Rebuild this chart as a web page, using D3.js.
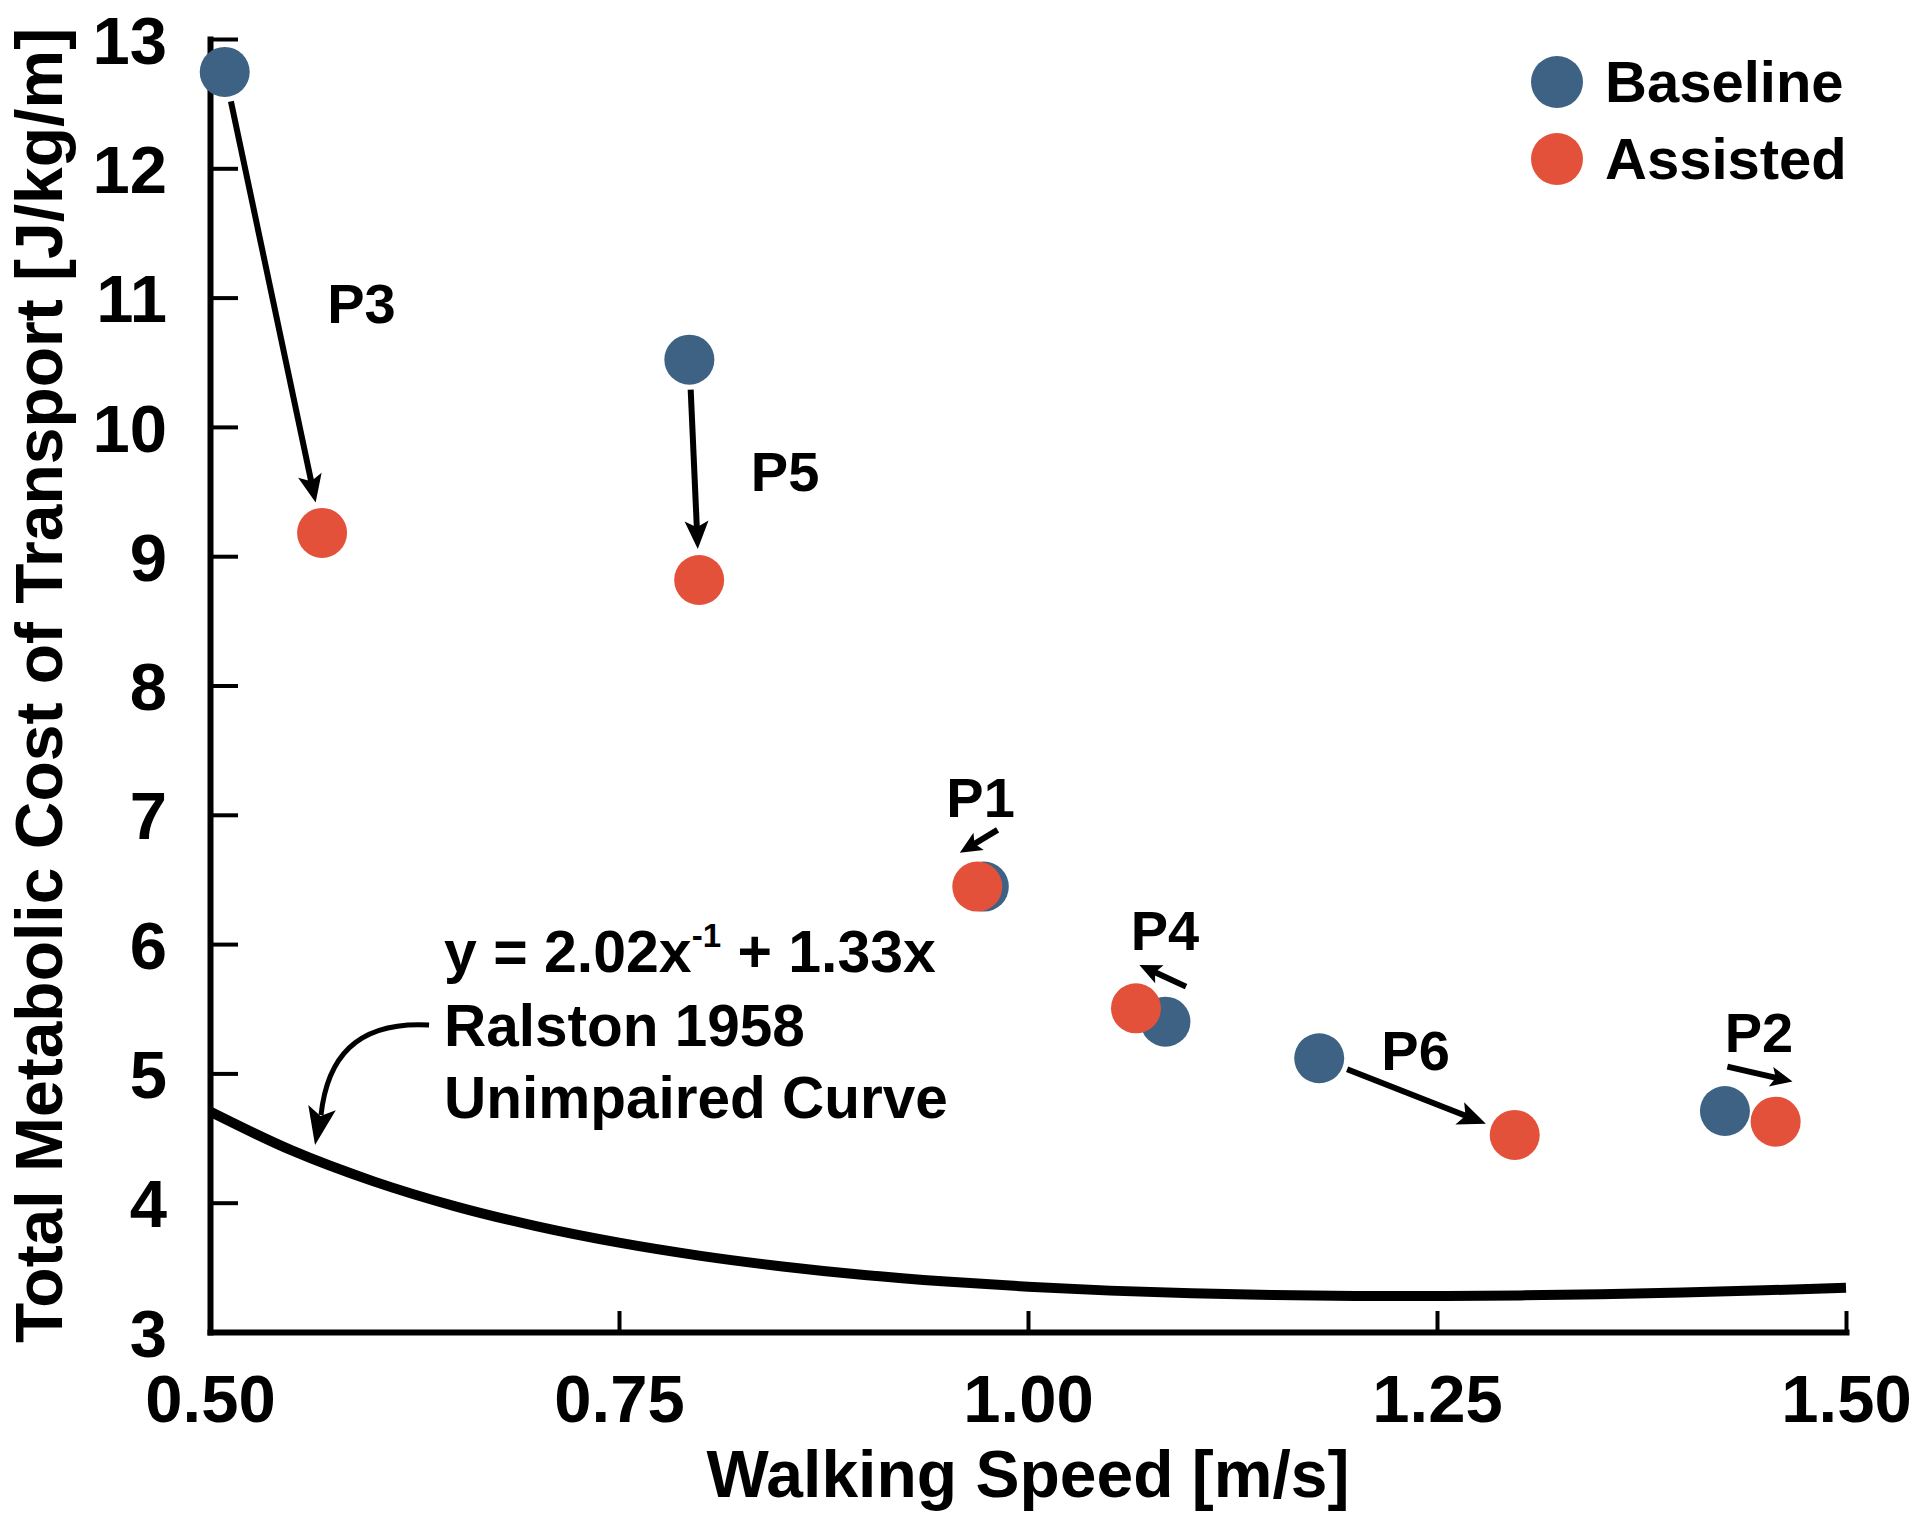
<!DOCTYPE html>
<html>
<head>
<meta charset="utf-8">
<script src="https://cdn.jsdelivr.net/npm/d3@7"></script>
<style>
  html, body { margin: 0; padding: 0; background: #ffffff; }
  svg { display: block; }
  text { font-family: "Liberation Sans", Arial, Helvetica, sans-serif; font-weight: bold; fill: #000; }
</style>
</head>
<body>
<svg id="chart" width="1920" height="1525"></svg>
<script>
// ---------------- data ----------------
const participants   = ["P3", "P5", "P1", "P4", "P6", "P2"];
const baselineSpeed  = [0.509, 0.793, 0.973, 1.084, 1.178, 1.426];
const baselineCost   = [12.745, 10.52, 6.445, 5.40, 5.117, 4.709];
const assistedSpeed  = [0.5685, 0.799, 0.969, 1.066, 1.2975, 1.457];
const assistedCost   = [9.18, 8.816, 6.445, 5.503, 4.524, 4.627];

// which participants get a connecting arrow between their two points
const connectArrow   = [true, true, false, false, true, false];

// label anchors (data units): center x, baseline y
const labelSpeed     = [0.5926, 0.8515, 0.971, 1.0837, 1.2369, 1.4468];
const labelCost      = [10.80, 9.507, 6.98, 5.952, 5.025, 5.164];

// short direction arrows (data units) for overlapping pairs
const shortArrowNames = ["P1", "P4", "P2"];
const shortArrowX1    = [0.9814, 1.0966, 1.4275];
const shortArrowY1    = [6.883, 5.671, 5.052];
const shortArrowX2    = [0.9583, 1.0681, 1.4673];
const shortArrowY2    = [6.707, 5.838, 4.937];

// Ralston 1958 unimpaired curve
const curveSpeed = [0.50, 0.55, 0.60, 0.65, 0.70, 0.75, 0.80, 0.85, 0.90, 0.95, 1.00,
                    1.05, 1.10, 1.15, 1.20, 1.25, 1.30, 1.35, 1.40, 1.45, 1.50];
const curveCost  = [4.705, 4.404, 4.165, 3.972, 3.817, 3.691, 3.589, 3.507, 3.441, 3.390, 3.350,
                    3.320, 3.299, 3.286, 3.279, 3.278, 3.283, 3.292, 3.305, 3.322, 3.342];

const equationLines = ["Ralston 1958", "Unimpaired Curve"];
const eqAnchor = [0.643, 5.784];          // data units: x, baseline y of first line
const curvedArrowStart = [0.6339, 5.374]; // data units
const curvedArrowTip   = [0.5642, 4.446];

const xTicks = [0.50, 0.75, 1.00, 1.25, 1.50];
const yTicks = [3, 4, 5, 6, 7, 8, 9, 10, 11, 12, 13];
const seriesNames = ["Baseline", "Assisted"];

// ---------------- styles ----------------
const BLUE = "#3d6283";
const RED  = "#e4513a";
const R = 25;

const svg = d3.select("#chart");

const x = d3.scaleLinear().domain([0.5, 1.5]).range([210, 1846]);
const y = d3.scaleLinear().domain([3, 13]).range([1332, 39]);

// ---------------- axes ----------------
const xAxis = d3.axisBottom(x).tickValues(xTicks).tickFormat(d3.format(".2f"))
  .tickSizeInner(-21).tickSizeOuter(0).tickPadding(42);
const yAxis = d3.axisLeft(y).tickValues(yTicks).tickFormat(d3.format("d"))
  .tickSizeInner(-28).tickSizeOuter(0).tickPadding(43);

const gx = svg.append("g").attr("transform", `translate(0,${y(3)})`).call(xAxis);
const gy = svg.append("g").attr("transform", `translate(${x(0.5)},0)`).call(yAxis);

[gx, gy].forEach(g => {
  g.select(".domain").attr("stroke", "#000").attr("stroke-width", 6).attr("stroke-linecap", "square");
  g.selectAll(".tick line").attr("stroke", "#000").attr("stroke-width", 4);
  g.selectAll(".tick text").attr("font-size", 67).attr("font-family", "Liberation Sans, Arial, sans-serif")
    .attr("font-weight", "bold").attr("fill", "#000");
});
gy.selectAll(".tick text").attr("dy", "0.36em");

// axis titles
svg.append("text")
  .attr("x", (x(0.5) + x(1.5)) / 2).attr("y", 1497)
  .attr("text-anchor", "middle").attr("font-size", 66)
  .text("Walking Speed [m/s]");

svg.append("text")
  .attr("transform", `translate(62,${(y(3) + y(13)) / 2}) rotate(-90)`)
  .attr("text-anchor", "middle").attr("font-size", 66)
  .text("Total Metabolic Cost of Transport [J/kg/m]");

// ---------------- Ralston curve ----------------
const curveData = curveSpeed.map((s, i) => [s, curveCost[i]]);
svg.append("path")
  .datum(curveData)
  .attr("fill", "none").attr("stroke", "#000").attr("stroke-width", 10)
  .attr("d", d3.line().x(d => x(d[0])).y(d => y(d[1])).curve(d3.curveMonotoneX));

// ---------------- arrow helpers ----------------
function arrowHead(g, tx, ty, ang, len, half) {
  const p = d3.path();
  p.moveTo(0, 0);
  p.lineTo(-len, -half);
  p.lineTo(-len * 0.78, 0);
  p.lineTo(-len, half);
  p.closePath();
  g.append("path").attr("d", p.toString()).attr("fill", "#000")
    .attr("transform", `translate(${tx},${ty}) rotate(${ang * 180 / Math.PI})`);
}
function straightArrow(g, x1, y1, x2, y2, width, len, half) {
  const ang = Math.atan2(y2 - y1, x2 - x1);
  const ex = x2 - Math.cos(ang) * len * 0.7, ey = y2 - Math.sin(ang) * len * 0.7;
  g.append("line").attr("x1", x1).attr("y1", y1).attr("x2", ex).attr("y2", ey)
    .attr("stroke", "#000").attr("stroke-width", width);
  arrowHead(g, x2, y2, ang, len, half);
}

const arrows = svg.append("g");

// connecting arrows
participants.forEach((p, i) => {
  if (!connectArrow[i]) return;
  const bx = x(baselineSpeed[i]), by = y(baselineCost[i]);
  const ax = x(assistedSpeed[i]), ay = y(assistedCost[i]);
  const ang = Math.atan2(ay - by, ax - bx);
  const sx = bx + Math.cos(ang) * 30, sy = by + Math.sin(ang) * 30;
  const tx = ax - Math.cos(ang) * 31, ty = ay - Math.sin(ang) * 31;
  straightArrow(arrows, sx, sy, tx, ty, 6, 28, 12);
});

// short direction arrows
shortArrowNames.forEach((n, i) => {
  straightArrow(arrows, x(shortArrowX1[i]), y(shortArrowY1[i]), x(shortArrowX2[i]), y(shortArrowY2[i]), 6, 22, 10);
});

// curved annotation arrow
{
  const sx = x(curvedArrowStart[0]), sy = y(curvedArrowStart[1]);
  const tx = x(curvedArrowTip[0]), ty = y(curvedArrowTip[1]);
  const ex = tx + 6, ey = ty - 30;
  const p = d3.path();
  p.moveTo(sx, sy);
  p.bezierCurveTo(sx - 75, sy - 4, ex + 6, ey - 55, ex, ey);
  arrows.append("path").attr("d", p.toString()).attr("fill", "none")
    .attr("stroke", "#000").attr("stroke-width", 5);
  arrowHead(arrows, tx, ty, Math.atan2(ty - (ey - 10), tx - (ex + 1.5)), 38, 14);
}

// ---------------- points ----------------
const pts = svg.append("g");
pts.selectAll("circle.base").data(participants).join("circle")
  .attr("class", "base")
  .attr("cx", (d, i) => x(baselineSpeed[i])).attr("cy", (d, i) => y(baselineCost[i]))
  .attr("r", R).attr("fill", BLUE);
pts.selectAll("circle.assist").data(participants).join("circle")
  .attr("class", "assist")
  .attr("cx", (d, i) => x(assistedSpeed[i])).attr("cy", (d, i) => y(assistedCost[i]))
  .attr("r", R).attr("fill", RED);

// participant labels
svg.append("g").selectAll("text").data(participants).join("text")
  .attr("x", (d, i) => x(labelSpeed[i])).attr("y", (d, i) => y(labelCost[i]))
  .attr("text-anchor", "middle").attr("font-size", 56)
  .text(d => d);

// ---------------- equation annotation ----------------
{
  const ex0 = x(eqAnchor[0]), ey0 = y(eqAnchor[1]);
  const t = svg.append("text").attr("x", ex0).attr("y", ey0).attr("font-size", 59);
  t.append("tspan").text("y = 2.02x");
  t.append("tspan").attr("font-size", 33).attr("dy", -25).text("-1");
  t.append("tspan").attr("dy", 25).text(" + 1.33x");
  equationLines.forEach((line, i) => {
    svg.append("text").attr("x", ex0).attr("y", ey0 + 74 + i * 72)
      .attr("font-size", 58.5).text(line);
  });
}

// ---------------- legend ----------------
const legend = svg.append("g").attr("transform", "translate(1557,82)");
seriesNames.forEach((n, i) => {
  const g = legend.append("g").attr("transform", `translate(0,${i * 77})`);
  g.append("circle").attr("r", 26).attr("fill", i === 0 ? BLUE : RED);
  g.append("text").attr("x", 48).attr("y", 20).attr("font-size", 58).text(n);
});
</script>
</body>
</html>
